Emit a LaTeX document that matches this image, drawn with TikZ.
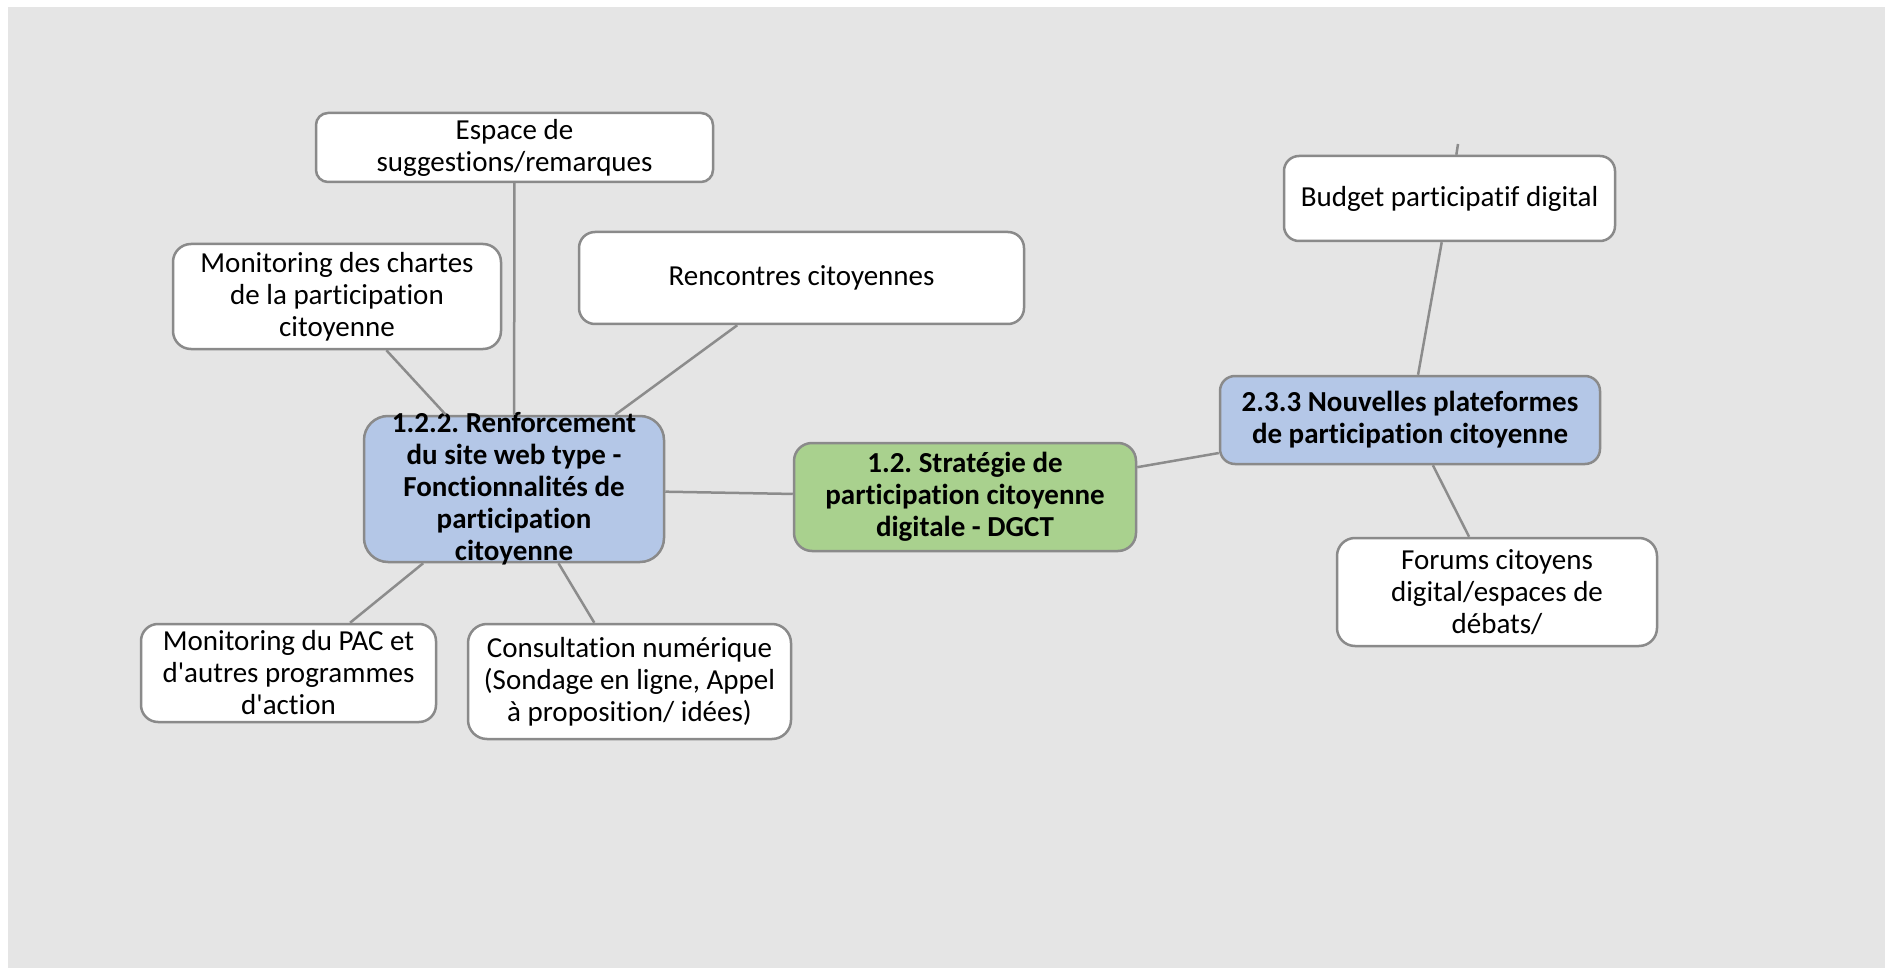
\documentclass[tikz,border=0pt]{standalone}
\usepackage{fontspec}
\setmainfont{Carlito}[Ligatures={NoCommon}]
\frenchspacing
\definecolor{bggray}{RGB}{229, 229, 229}
\definecolor{edgegray}{RGB}{138, 138, 138}
\definecolor{linkgray}{RGB}{140, 140, 140}
\definecolor{topicblue}{RGB}{180, 199, 231}
\definecolor{rootgreen}{RGB}{169, 209, 142}
\usetikzlibrary{positioning}

\begin{document}
\begin{tikzpicture}[x=1pt, y=-1pt,
  idea/.style={draw=edgegray, line width=2.5pt, fill=white, align=center,
    inner sep=0pt, font=\fontsize{29}{32}\selectfont},
  topic/.style={idea, fill=topicblue, font=\fontsize{29}{32}\selectfont\bfseries},
  root/.style={idea, fill=rootgreen, font=\fontsize{29}{32}\selectfont\bfseries},
  link/.style={draw=linkgray, line width=2.5pt}]

  % Canvas
  \useasboundingbox (0,0) rectangle (1885,968);
  \fill[white] (0,0) rectangle (1885,968);
  \fill[bggray] (8,7) rectangle (1885,968);

  % Central topic and main branches
  \node[root, minimum width=342, minimum height=108, rounded corners=18pt] (strategie) at (965,497)
    {1.2. Stratégie de\\participation citoyenne\\digitale - DGCT};
  \node[topic, minimum width=300, minimum height=146, rounded corners=24pt, inner ysep=-4pt] (renfort) at (514,489)
    {1.2.2. Renforcement\\du site web type -\\Fonctionnalités de\\participation\\citoyenne};
  \node[topic, minimum width=380, minimum height=88, rounded corners=15pt] (nouvelles) at (1410,420)
    {2.3.3 Nouvelles plateformes\\de participation citoyenne};

  % Sub-topics of 1.2.2
  \node[idea, minimum width=397, minimum height=69, rounded corners=12pt] (espace) at (514.5,147.5)
    {Espace de\\suggestions/remarques};
  \node[idea, minimum width=328, minimum height=105, rounded corners=18pt] (chartes) at (337,296.5)
    {Monitoring des chartes\\de la participation\\citoyenne};
  \node[idea, minimum width=445, minimum height=92, rounded corners=16pt] (rencontres) at (801.5,278)
    {Rencontres citoyennes};
  \node[idea, minimum width=295, minimum height=98, rounded corners=17pt] (pac) at (288.5,673)
    {Monitoring du PAC et\\d\textquotesingle autres programmes\\d\textquotesingle action};
  \node[idea, minimum width=323, minimum height=115, rounded corners=19pt] (consult) at (629.5,681.5)
    {Consultation numérique\\(Sondage en ligne, Appel\\à proposition/ idées)};

  % Sub-topics of 2.3.3
  \node[idea, minimum width=331, minimum height=85, rounded corners=15pt] (budget) at (1449.5,198.5)
    {Budget participatif digital};
  \node[idea, minimum width=320, minimum height=108, rounded corners=18pt] (forums) at (1497,592)
    {Forums citoyens\\digital/espaces de\\débats/};
  \coordinate (budgettail) at (1458,144);

  % Connectors
  \draw[link] (renfort) -- (strategie);
  \draw[link] (strategie) -- (nouvelles);
  \draw[link] (renfort) -- (espace);
  \draw[link] (renfort) -- (chartes);
  \draw[link] (renfort) -- (rencontres);
  \draw[link] (renfort) -- (pac);
  \draw[link] (renfort) -- (consult);
  \draw[link] (nouvelles) -- (budget);
  \draw[link] (nouvelles) -- (forums);
  \draw[link] (budget) -- (budgettail);
\end{tikzpicture}
\end{document}
